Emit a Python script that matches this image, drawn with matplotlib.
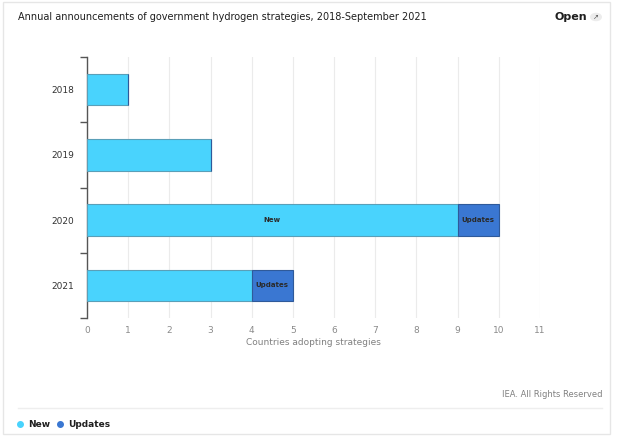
import matplotlib.pyplot as plt
from matplotlib.patches import Rectangle, Circle
from matplotlib.lines import Line2D

years = ["2018", "2019", "2020", "2021"]
new_counts = [1, 3, 9, 4]
update_counts = [0, 0, 1, 1]
x_ticks = list(range(0, 12))

NEW_COLOR = "#49d3fd"
UPD_COLOR = "#3a77d2"
TEXT_DARK = "#1f1f1f"
TEXT_GRAY = "#808080"

fig = plt.figure(figsize=(6.18, 4.36), dpi=100)
fig.patch.set_facecolor("white")
W, H = 618, 436

# card border
fig.add_artist(Rectangle((3 / W, 2 / H), 607 / W, 432 / H, transform=fig.transFigure,
                         fill=False, edgecolor="#e6e6e6", linewidth=1.0))

ax = fig.add_axes([87 / W, (H - 318) / H, (540 - 87) / W, (318 - 57) / H])
pos = list(range(len(years)))
ax.barh(pos, new_counts, height=0.48, color=NEW_COLOR, edgecolor="#5a9fb8", linewidth=0.8, zorder=3)
ax.barh(pos, update_counts, left=new_counts, height=0.48, color=UPD_COLOR,
        edgecolor="#2f5a9a", linewidth=0.8, zorder=3)

for i, (n, u) in enumerate(zip(new_counts, update_counts)):
    if n >= 5:
        ax.text(n / 2, i, "New", ha="center", va="center", fontsize=5, fontweight="bold",
                color="#2a2a2a", zorder=4)
    if u > 0:
        ax.text(n + u / 2, i, "Updates", ha="center", va="center", fontsize=5,
                fontweight="bold", color="#2a2a2a", zorder=4)

ax.set_xlim(0, 11)
ax.set_ylim(len(years) - 0.5, -0.5)
ax.set_xticks(x_ticks)
ax.set_xticklabels([str(t) for t in x_ticks])
ax.set_yticks(pos)
ax.set_yticklabels(years)
ax.set_yticks([p - 0.5 for p in pos] + [len(years) - 0.5], minor=True)
ax.grid(axis="x", color="#ebebeb", linewidth=0.8, zorder=0)
ax.set_axisbelow(True)
for s in ["top", "right", "bottom"]:
    ax.spines[s].set_visible(False)
ax.spines["left"].set_color("#555555")
ax.spines["left"].set_linewidth(1.0)
ax.tick_params(axis="y", which="major", length=0, labelsize=6.5, labelcolor="#333333", pad=9)
ax.tick_params(axis="y", which="minor", length=5, color="#555555", width=1.0)
ax.tick_params(axis="x", length=0, labelsize=6.5, labelcolor="#8a8a8a", pad=6)
ax.set_xlabel("Countries adopting strategies", fontsize=6.5, color=TEXT_GRAY, labelpad=2)

fig.text(18 / W, 1 - 17 / H, "Annual announcements of government hydrogen strategies, 2018-September 2021",
         fontsize=7, color=TEXT_DARK, fontweight="medium", va="center", ha="left")
fig.text(587 / W, 1 - 17 / H, "Open", fontsize=8, fontweight="bold", color=TEXT_DARK,
         va="center", ha="right")
fig.add_artist(Circle((596 / W, 1 - 17 / H), 6 / W, transform=fig.transFigure,
                      facecolor="#ececec", edgecolor="none"))
fig.text(596 / W, 1 - 17 / H, "\u2197", fontsize=5, color="#555555", va="center", ha="center")

fig.text(602 / W, 1 - 394 / H, "IEA. All Rights Reserved", fontsize=6, color=TEXT_GRAY,
         va="center", ha="right")
fig.add_artist(Line2D([18 / W, 602 / W], [1 - 408 / H, 1 - 408 / H], transform=fig.transFigure,
                      color="#eeeeee", linewidth=1.0))

# legend
leg_y = 1 - 424 / H
for cx, label, color in [(20, "New", NEW_COLOR), (60, "Updates", UPD_COLOR)]:
    fig.add_artist(Line2D([cx / W], [leg_y], marker="o", markersize=4, color=color,
                          linestyle="none", transform=fig.transFigure))
    fig.text((cx + 8) / W, leg_y, label, fontsize=6.5, fontweight="semibold", color=TEXT_DARK,
             va="center", ha="left")

fig.savefig("out.png", dpi=100)
